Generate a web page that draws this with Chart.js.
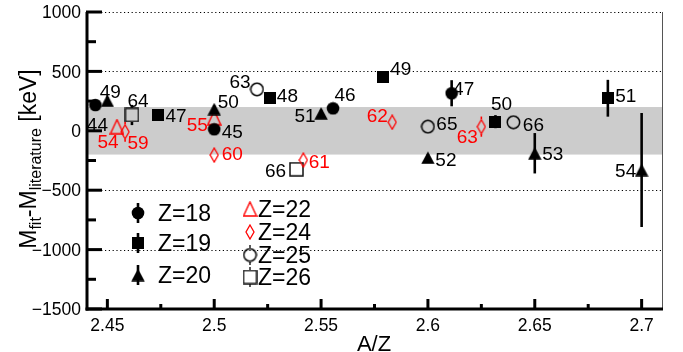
<!DOCTYPE html>
<html><head><meta charset="utf-8">
<script src="https://cdn.jsdelivr.net/npm/chart.js@4/dist/chart.umd.min.js"></script>
<style>html,body{margin:0;padding:0;background:#fff}canvas{display:block}</style>
</head><body>
<canvas id="c" width="683" height="352"></canvas>
<script>
// ---- DATA ----
const seriesNames = ['Z=18','Z=19','Z=20','Z=22','Z=24','Z=25','Z=26'];
const z18_AZ = [2.4444, 2.5000, 2.5556, 2.6111];
const z18_dM = [217, 13, 189, 316];
const z18_err = [30, 30, 30, 110];
const z18_A = ['44','45','46','47'];
const z19_AZ = [2.4737, 2.5263, 2.5789, 2.6316, 2.6842];
const z19_dM = [133, 274, 450, 77, 274];
const z19_err = [30, 30, 30, 55, 155];
const z19_A = ['47','48','49','50','51'];
const z20_AZ = [2.45, 2.50, 2.55, 2.60, 2.65, 2.70];
const z20_dM = [253, 183, 147, -226, -189, -330];
const z20_err = [30, 30, 30, 30, 170, 480];
const z20_A = ['49','50','51','52','53','54'];
const z22_AZ = [2.4545, 2.5000];
const z22_dM = [35, 110];
const z22_err = [20, 20];
const z22_A = ['54','55'];
const z24_AZ = [2.4583, 2.5000, 2.5417, 2.5833, 2.6250];
const z24_dM = [-8, -204, -246, 72, 35];
const z24_err = [85, 20, 20, 20, 85];
const z24_A = ['59','60','61','62','63'];
const z25_AZ = [2.52, 2.60, 2.64];
const z25_dM = [349, 35, 72];
const z25_err = [30, 30, 30];
const z25_A = ['63','65','66'];
const z26_AZ = [2.4615, 2.5385];
const z26_dM = [133, -324];
const z26_err = [85, 30];
const z26_A = ['64','66'];
const xTickValues = [2.45, 2.5, 2.55, 2.6, 2.65, 2.7];
const xTickLabels = ['2.45','2.5','2.55','2.6','2.65','2.7'];
const yTickValues = [1000, 500, 0, -500, -1000, -1500];
const yTickLabels = ['1000','500','0','\u2212500','\u22121000','\u22121500'];
const bandLimits = [-200, 200];

// ---- LAYOUT / STYLE ----
const FONT = '"Liberation Sans", Arial, Helvetica, sans-serif';
const labelOffsets = {
  'Z=18': [[2,19],[18,2],[12,-14],[12,-5]],
  'Z=19': [[18,0],[17,-3],[18,-9],[6,-18],[18,-3]],
  'Z=20': [[3,-10],[14,-8],[-16,2],[18,2],[18,0],[-16,0]],
  'Z=22': [[-9,15],[-17,6]],
  'Z=24': [[13,10],[18,-2],[16,1],[-15,-7],[-14,10]],
  'Z=25': [[-17,-8],[19,-3],[20,2]],
  'Z=26': [[6,-15],[-21,1]]
};
const markerGap = {'Z=18':0,'Z=19':0,'Z=20':0,'Z=22':8,'Z=24':7.5,'Z=25':7,'Z=26':7};

function mk(w,h,draw){const c=document.createElement('canvas');c.width=w;c.height=h;const g=c.getContext('2d');draw(g,w,h);return c;}
const markers = {
  'Z=18': mk(14,14,g=>{g.fillStyle='#000';g.beginPath();g.arc(7,7,6.3,0,Math.PI*2);g.fill();}),
  'Z=19': mk(12,12,g=>{g.fillStyle='#000';g.fillRect(0,0,12,12);}),
  'Z=20': mk(14,13,g=>{g.fillStyle='#000';g.beginPath();g.moveTo(7,0.3);g.lineTo(13.7,12.7);g.lineTo(0.3,12.7);g.closePath();g.fill();}),
  'Z=22': mk(15,16,g=>{g.strokeStyle='#f00';g.lineWidth=1.4;g.beginPath();g.moveTo(7.5,1);g.lineTo(14,15);g.lineTo(1,15);g.closePath();g.stroke();}),
  'Z=24': mk(10,16,g=>{g.strokeStyle='#f00';g.lineWidth=1.3;g.beginPath();g.moveTo(5,1);g.lineTo(9,8);g.lineTo(5,15);g.lineTo(1,8);g.closePath();g.stroke();}),
  'Z=25': mk(15,15,g=>{g.strokeStyle='#000';g.lineWidth=1.5;g.beginPath();g.arc(7.5,7.5,6.2,0,Math.PI*2);g.stroke();}),
  'Z=26': mk(15,15,g=>{g.strokeStyle='#111';g.lineWidth=1.5;g.strokeRect(1,1,13,13);})
};
const colors = {'Z=18':'#000','Z=19':'#000','Z=20':'#000','Z=22':'#f00','Z=24':'#f00','Z=25':'#000','Z=26':'#000'};

const raw = {
  'Z=18':[z18_AZ,z18_dM,z18_err,z18_A],
  'Z=19':[z19_AZ,z19_dM,z19_err,z19_A],
  'Z=20':[z20_AZ,z20_dM,z20_err,z20_A],
  'Z=22':[z22_AZ,z22_dM,z22_err,z22_A],
  'Z=24':[z24_AZ,z24_dM,z24_err,z24_A],
  'Z=25':[z25_AZ,z25_dM,z25_err,z25_A],
  'Z=26':[z26_AZ,z26_dM,z26_err,z26_A]
};
const datasets = seriesNames.map(n=>{
  const [xs,ys,es,as]=raw[n];
  return {label:n, data:xs.map((x,i)=>({x:x,y:ys[i],err:es[i],a:as[i]})),
    pointStyle:markers[n], pointRadius:7, pointHoverRadius:7, showLine:false};
});

function capText(ctx,t,x,y,size,align){ctx.textAlign=align||'center';ctx.textBaseline='alphabetic';ctx.fillText(t,x,y+0.358*size);}
function vbar(ctx,x,yc,yTop,yBot,gap){
  if(gap<=0){ctx.beginPath();ctx.moveTo(x,yTop);ctx.lineTo(x,yBot);ctx.stroke();return;}
  if(yc-gap>yTop){ctx.beginPath();ctx.moveTo(x,yTop);ctx.lineTo(x,yc-gap);ctx.stroke();}
  if(yc+gap<yBot){ctx.beginPath();ctx.moveTo(x,yc+gap);ctx.lineTo(x,yBot);ctx.stroke();}
}

const plugin = {
  id:'rootstyle',
  beforeDatasetsDraw(chart){
    const ctx=chart.ctx, a=chart.chartArea, xs=chart.scales.x, ys=chart.scales.y;
    ctx.save();
    ctx.strokeStyle='#000';ctx.lineWidth=1;ctx.setLineDash([1.2,2.6]);
    yTickValues.forEach(v=>{if(v<=-1500)return;const y=Math.round(ys.getPixelForValue(v))+0.5;ctx.beginPath();ctx.moveTo(a.left,y);ctx.lineTo(a.right,y);ctx.stroke();});
    ctx.setLineDash([]);
    const y1=ys.getPixelForValue(bandLimits[1]), y0=ys.getPixelForValue(bandLimits[0]);
    ctx.fillStyle='#cccccc';ctx.fillRect(a.left,y1,a.right-a.left,y0-y1);
    chart.data.datasets.forEach(ds=>{
      ctx.strokeStyle=colors[ds.label];ctx.lineWidth=(colors[ds.label]==='#f00')?1.6:2.6;
      ds.data.forEach(p=>{const x=xs.getPixelForValue(p.x);
        vbar(ctx,x,ys.getPixelForValue(p.y),ys.getPixelForValue(p.y+p.err),ys.getPixelForValue(p.y-p.err),markerGap[ds.label]);});
    });
    ctx.restore();
  },
  afterDraw(chart){
    const ctx=chart.ctx, a=chart.chartArea, xs=chart.scales.x, ys=chart.scales.y;
    ctx.save();
    ctx.strokeStyle='#555';ctx.lineWidth=1;ctx.beginPath();ctx.moveTo(a.right-0.5,a.top);ctx.lineTo(a.right-0.5,a.bottom);ctx.stroke();
    ctx.strokeStyle='#000';ctx.lineWidth=3;
    ctx.beginPath();ctx.moveTo(a.left+1,a.top);ctx.lineTo(a.left+1,a.bottom+1.5);ctx.stroke();
    ctx.beginPath();ctx.moveTo(a.left-0.5,a.bottom);ctx.lineTo(a.right,a.bottom);ctx.stroke();
    for(let v=-1500; v<=1000; v+=250){
      const y=ys.getPixelForValue(v); const len=(v%500===0)?16:10;
      ctx.beginPath();ctx.moveTo(a.left,y);ctx.lineTo(a.left+len,y);ctx.stroke();
    }
    for(let k=0;k<=10;k++){
      const v=2.45+0.025*k; const x=xs.getPixelForValue(v); const len=(k%2===0)?10:5;
      ctx.beginPath();ctx.moveTo(x,a.bottom);ctx.lineTo(x,a.bottom-len);ctx.stroke();
    }
    ctx.fillStyle='#000';
    ctx.font='17.5px '+FONT;
    yTickValues.forEach((v,i)=>capText(ctx,yTickLabels[i],a.left-5,ys.getPixelForValue(v),17.5,'right'));
    xTickValues.forEach((v,i)=>capText(ctx,xTickLabels[i],xs.getPixelForValue(v),a.bottom+16,17.5,'center'));
    ctx.font='22px '+FONT;
    capText(ctx,'A/Z',374,343,22,'center');
    ctx.save();
    ctx.translate(36,159);ctx.rotate(-Math.PI/2);
    const parts=[['M',23,0],['fit',16,5],['-M',23,0],['literature',16,5],[' [keV]',23,0]];
    let tw=0;parts.forEach(p=>{ctx.font=p[1]+'px '+FONT;tw+=ctx.measureText(p[0]).width;});
    let cx=-tw/2;ctx.textAlign='left';ctx.textBaseline='alphabetic';
    parts.forEach(p=>{ctx.font=p[1]+'px '+FONT;ctx.fillText(p[0],cx,p[2]);cx+=ctx.measureText(p[0]).width;});
    ctx.restore();
    ctx.font='19px '+FONT;
    chart.data.datasets.forEach(ds=>{
      ctx.fillStyle=colors[ds.label];
      ds.data.forEach((p,i)=>{const o=labelOffsets[ds.label][i];capText(ctx,p.a,xs.getPixelForValue(p.x)+o[0],ys.getPixelForValue(p.y)+o[1],19,'center');});
    });
    const leg=[['Z=18',138,213,158,true],['Z=19',138,243,158,true],['Z=20',138,275,158,true],
               ['Z=22',250,209,258,false],['Z=24',250,232,258,false],['Z=25',250,255,258,true],['Z=26',250,277,258,true]];
    ctx.font='23px '+FONT;ctx.fillStyle='#000';
    leg.forEach(L=>{
      const m=markers[L[0]];
      if(L[4]){ctx.strokeStyle='#000';ctx.lineWidth=(L[1]<200)?2.6:1.3;vbar(ctx,L[1],L[2],L[2]-10,L[2]+10,markerGap[L[0]]);}
      ctx.drawImage(m,L[1]-m.width/2,L[2]-m.height/2);
      capText(ctx,L[0],L[3],L[2],23,'left');
    });
    ctx.restore();
  }
};

new Chart(document.getElementById('c'),{
  type:'scatter',
  data:{datasets:datasets},
  options:{
    responsive:false, animation:false, devicePixelRatio:1,
    layout:{padding:{left:86,right:20,top:12,bottom:43}},
    plugins:{legend:{display:false},tooltip:{enabled:false}},
    scales:{
      x:{type:'linear',min:2.44,max:2.71,display:false},
      y:{type:'linear',min:-1500,max:1000,display:false}
    }
  },
  plugins:[plugin]
});
</script>
</body></html>
